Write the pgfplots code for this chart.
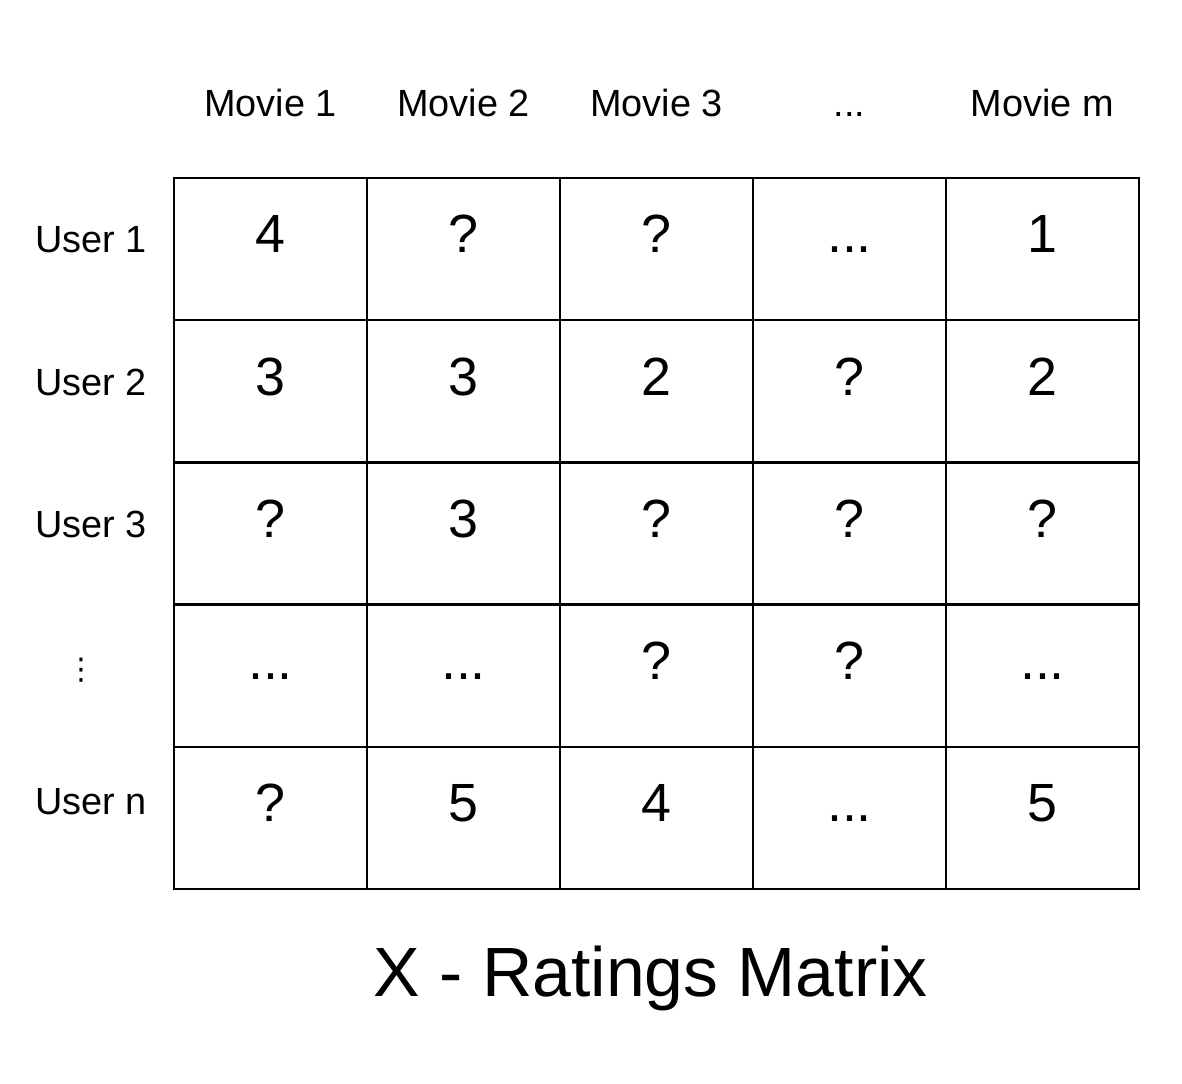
\documentclass[border=0pt]{standalone}
\usepackage{pgfplots}
\pgfplotsset{compat=1.18}
\usepackage{fontspec}
\setmainfont{Liberation Sans}
\newfontfamily\djvfont{DejaVu Sans}
\begin{document}
\begin{tikzpicture}
\path[use as bounding box] (-174bp,-195bp) rectangle (1008bp,889bp);
\begin{axis}[at={(0,0)},anchor=origin,scale only axis,width=965bp,height=711bp,
  xmin=0,xmax=5,ymin=0,ymax=5,clip=false,
  xtick={0,...,5},ytick={0,...,5},xticklabels={},yticklabels={},
  major tick length=0pt,grid=major,
  major grid style={black,line width=2.5bp},
  axis line style={black,line width=2.5bp},
  nodes near coords,point meta=explicit symbolic,
  every node near coord/.append style={anchor=center,text height=1.45ex,text depth=0pt,inner sep=0pt}]
\addplot[only marks,mark=none,nodes near coords style={font=\fontsize{54}{60}\selectfont}] table[col sep=comma,meta=l] {
x,y,l
0.5,4.5,4
1.5,4.5,?
2.5,4.5,?
3.5,4.5,...
4.5,4.5,1
0.5,3.5,3
1.5,3.5,3
2.5,3.5,2
3.5,3.5,?
4.5,3.5,2
0.5,2.5,?
1.5,2.5,3
2.5,2.5,?
3.5,2.5,?
4.5,2.5,?
0.5,1.5,...
1.5,1.5,...
2.5,1.5,?
3.5,1.5,?
4.5,1.5,...
0.5,0.5,?
1.5,0.5,5
2.5,0.5,4
3.5,0.5,...
4.5,0.5,5
};
\addplot[only marks,mark=none,nodes near coords style={font=\fontsize{38}{44}\selectfont}] table[col sep=comma,meta=l] {
x,y,l
0.5,5.46,Movie 1
1.5,5.46,Movie 2
2.5,5.46,Movie 3
3.5,5.46,...
4.5,5.46,Movie m
-0.43,4.5,User 1
-0.43,3.5,User 2
-0.43,2.5,User 3
-0.43,0.55,User n
};
\addplot[only marks,mark=none,nodes near coords style={font=\djvfont\fontsize{30}{36}\selectfont}] table[col sep=comma,meta=l] {
x,y,l
-0.48,1.5,⋮
};
\addplot[only marks,mark=none,nodes near coords style={font=\fontsize{70}{80}\selectfont}] table[col sep=comma,meta=l] {
x,y,l
2.47,-0.73,X - Ratings Matrix
};
\end{axis}
\end{tikzpicture}
\end{document}
